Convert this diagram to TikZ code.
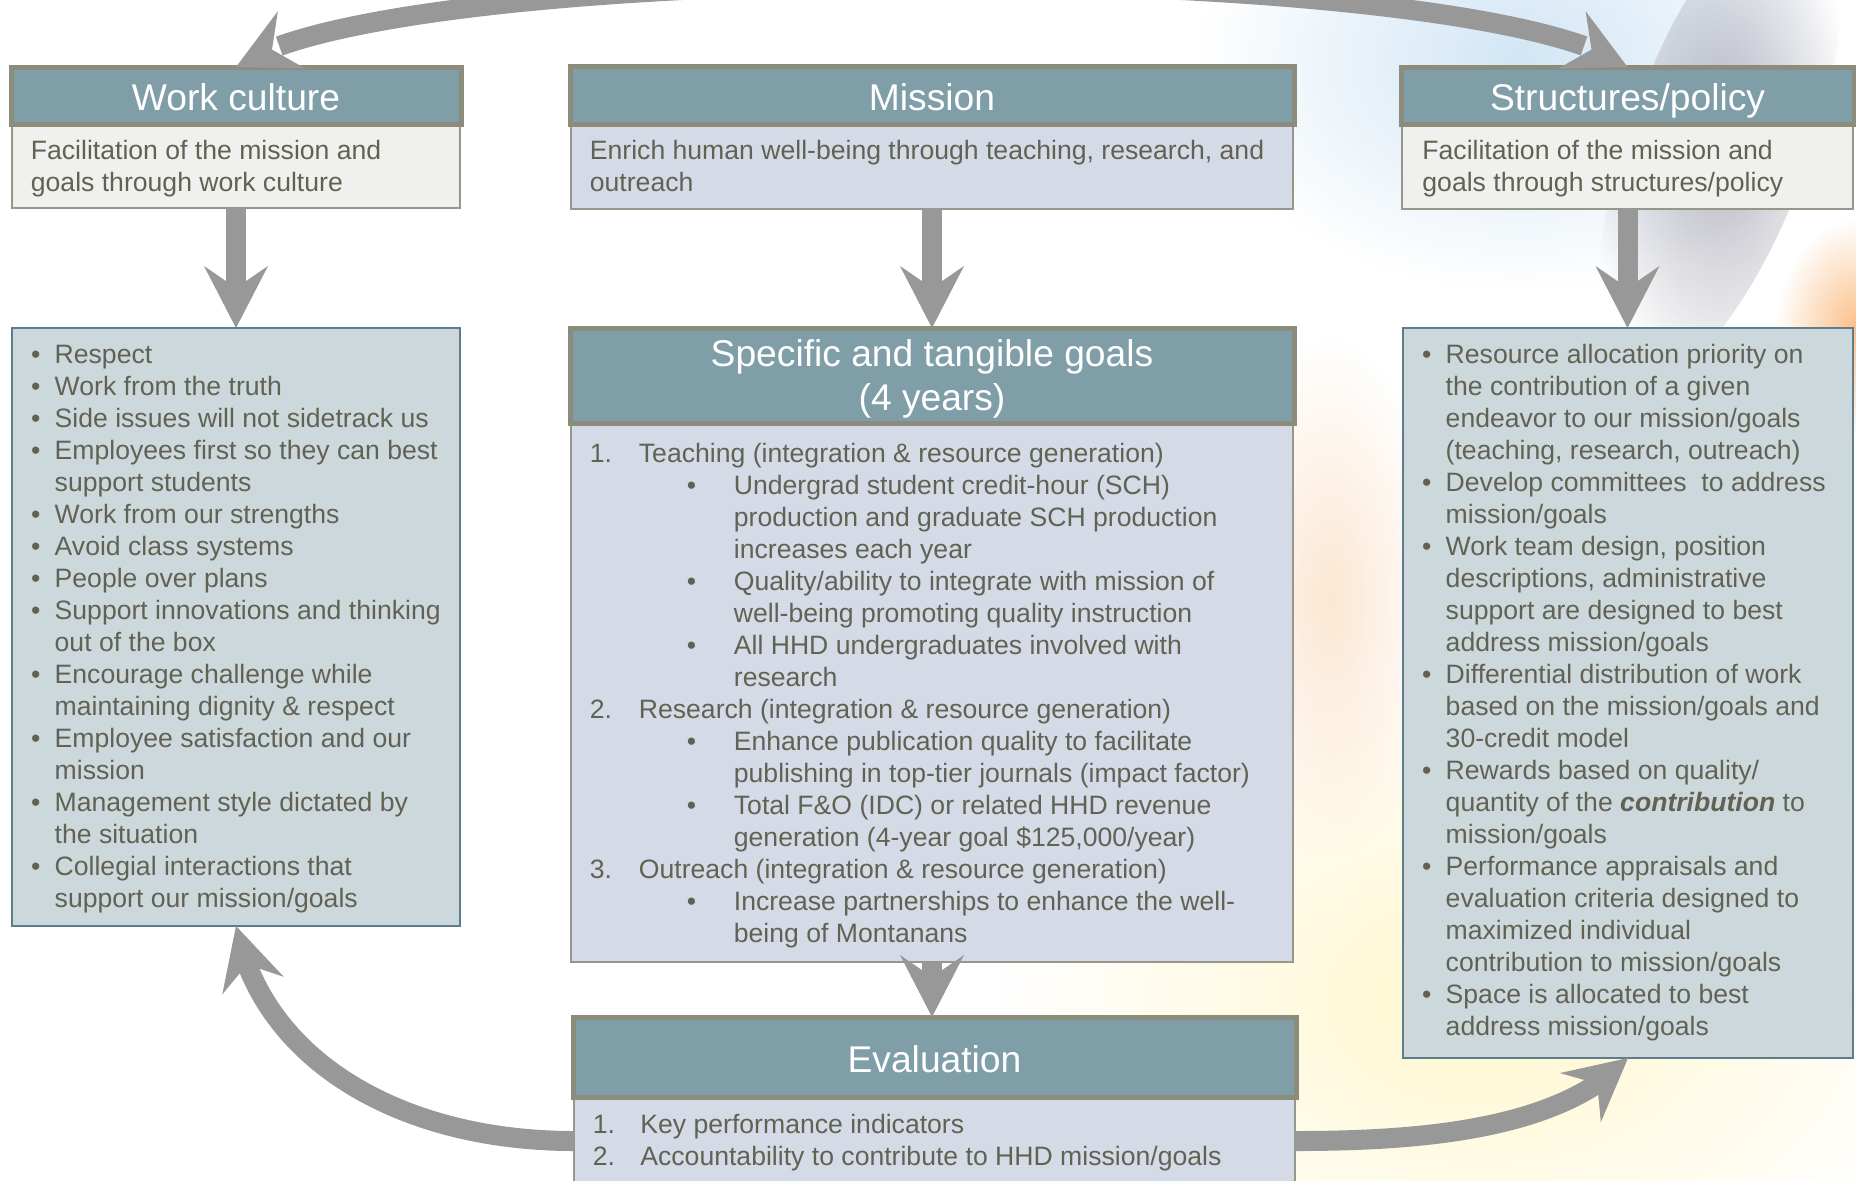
\documentclass[tikz,border=0pt]{standalone}
\usepackage{fontspec}
\setmainfont{Liberation Sans}
\usetikzlibrary{arrows.meta,bending,fadings}
\definecolor{txt}{RGB}{98,98,84}
\definecolor{hdrfill}{RGB}{127,158,168}
\definecolor{hdrline}{RGB}{140,140,124}
\definecolor{descfill}{RGB}{240,240,238}
\definecolor{bluefill}{RGB}{213,219,230}
\definecolor{bulfill}{RGB}{205,216,221}
\definecolor{bulline}{RGB}{93,125,140}
\definecolor{arrowc}{RGB}{152,152,152}
\definecolor{bodyline}{RGB}{150,150,138}
\definecolor{glowblue}{RGB}{210,230,245}
\definecolor{glowgray}{RGB}{165,165,178}
\definecolor{gloworange}{RGB}{250,175,105}
\definecolor{glowyellow}{RGB}{255,247,205}
\definecolor{glowpeach}{RGB}{250,215,180}
\tikzfading[name=glowfade, inner color=transparent!0, outer color=transparent!100]
\newcommand{\bodyfont}{\fontsize{13.3pt}{16pt}\selectfont}
\newcommand{\hdrfont}{\fontsize{18.6pt}{22pt}\selectfont}
\newcommand{\bi}{\makebox[11.8pt][l]{\textbullet}}
\newcommand{\bc}{\hspace*{11.8pt}}
\newcommand{\gn}[1]{\makebox[24.5pt][l]{#1}}
\newcommand{\gb}{\hspace*{48.5pt}\makebox[23.5pt][l]{\textbullet}}
\newcommand{\gc}{\hspace*{72pt}}
\newcommand{\en}[1]{\makebox[23.75pt][l]{#1}}
\begin{document}
\begin{tikzpicture}[x=0.5pt,y=-0.5pt,
  box/.style={rectangle, anchor=north west, inner sep=0pt, outer sep=0pt},
  hdr/.style={box, fill=hdrfill, draw=hdrline, line width=2.5pt},
  descbox/.style={box, fill=descfill, draw=bodyline, line width=1pt},
  bluebox/.style={box, fill=bluefill, draw=bodyline, line width=1pt},
  bulbox/.style={box, fill=bulfill, draw=bulline, line width=1.2pt},
  hdrtext/.style={anchor=base, inner sep=0pt, text=white, font=\hdrfont},
  bodytext/.style={anchor=north west, inner sep=0pt, text=txt, font=\bodyfont},
  >={Stealth[length=31pt,width=32pt,inset=11pt,line width=0pt]},
  flow/.style={draw=arrowc, line width=10pt, ->},
  flowboth/.style={draw=arrowc, line width=10pt, <->},
]
\useasboundingbox (0,0) rectangle (1856,1180);
\clip (0,0) rectangle (1856,1180);
\fill[white] (0,0) rectangle (1856,1180);

% faint background picture
\fill[glowyellow, path fading=glowfade] (1480,1000) ellipse (480 and 330);
\fill[glowpeach, path fading=glowfade, opacity=.6] (1330,600) ellipse (110 and 260);
\fill[glowblue, path fading=glowfade] (1520,60) ellipse (320 and 230);
\fill[glowgray, path fading=glowfade, opacity=.8, rotate around={-20:(1720,140)}] (1720,140) ellipse (90 and 260);
\fill[gloworange, path fading=glowfade, opacity=.8] (1856,330) ellipse (80 and 110);

% boxes
\node[descbox, minimum width=224pt, minimum height=42pt] (wcdesc) at (12,124) {};
\node[hdr, minimum width=225pt, minimum height=28.5pt] (wchead) at (11,67) {};
\node[bluebox, minimum width=361pt, minimum height=42.5pt] (mdesc) at (571,124) {};
\node[hdr, minimum width=362pt, minimum height=29pt] (mhead) at (570,66) {};
\node[descbox, minimum width=225.5pt, minimum height=42.5pt] (stdesc) at (1402,124) {};
\node[hdr, minimum width=226.5pt, minimum height=28.5pt] (sthead) at (1401,67) {};

% arrows between boxes
\draw[flowboth] (wchead.north) .. controls (390,-44) and (1473.5,-44) .. (sthead.north);
\draw[flow] (wcdesc.south) -- (wcdesc.south |- 0,328);
\draw[flow] (mdesc.south) -- (mdesc.south |- 0,328);
\draw[flow] (stdesc.south) -- (stdesc.south |- 0,328);

\node[bluebox, minimum width=361pt, minimum height=269.5pt] (gbody) at (571,423) {};
\node[hdr, minimum width=362pt, minimum height=47.5pt] (ghead) at (570,328) {};
\node[bulbox, minimum width=224pt, minimum height=299pt] (wcbul) at (12,328) {};
\node[bulbox, minimum width=225pt, minimum height=365pt] (stbul) at (1403,328) {};
\node[bluebox, minimum width=360.5pt, minimum height=44pt] (evbody) at (574,1097) {};
\node[hdr, minimum width=361.5pt, minimum height=40pt] (evhead) at (573,1017) {};

\draw[flow] (evbody.west) .. controls (400,1141) and (262,1060) .. (wcbul.south);
\draw[flow] (evbody.east) .. controls (1420,1141) and (1560,1130) .. (stbul.south);
\draw[flow] (gbody.south) -- (gbody.south |- evhead.north);

% header texts
\node[hdrtext] (wct) at (236,110) {Work culture};
\node[hdrtext] (mt) at (932,110) {Mission};
\node[hdrtext] (stt) at (1627.5,110) {Structures/policy};
\node[hdrtext] (gt) at (932,366.7) {\begin{tabular}[t]{@{}c@{}}Specific and tangible goals\\(4 years)\end{tabular}};
\node[hdrtext] (evt) at (934.5,1072.7) {Evaluation};

% descriptions
\node[bodytext] (wcdt) at (30.5,136.6) {\begin{tabular}{@{}l@{}}Facilitation of the mission and\\goals through work culture\end{tabular}};
\node[bodytext] (mdt) at (589.5,136.6) {\begin{tabular}{@{}l@{}}Enrich human well-being through teaching, research, and\\outreach\end{tabular}};
\node[bodytext] (stdt) at (1422,136.6) {\begin{tabular}{@{}l@{}}Facilitation of the mission and\\goals through structures/policy\end{tabular}};

% work culture list
\node[bodytext] (wclist) at (30.7,340.6) {\begin{tabular}{@{}l@{}}
\bi Respect\\
\bi Work from the truth\\
\bi Side issues will not sidetrack us\\
\bi Employees first so they can best\\
\bc support students\\
\bi Work from our strengths\\
\bi Avoid class systems\\
\bi People over plans\\
\bi Support innovations and thinking\\
\bc out of the box\\
\bi Encourage challenge while\\
\bc maintaining dignity \& respect\\
\bi Employee satisfaction and our\\
\bc mission\\
\bi Management style dictated by\\
\bc the situation\\
\bi Collegial interactions that\\
\bc support our mission/goals
\end{tabular}};

% structures list
\node[bodytext] (stlist) at (1421.7,340.6) {\begin{tabular}{@{}l@{}}
\bi Resource allocation priority on\\
\bc the contribution of a given\\
\bc endeavor to our mission/goals\\
\bc (teaching, research, outreach)\\
\bi Develop committees~ to address\\
\bc mission/goals\\
\bi Work team design, position\\
\bc descriptions, administrative\\
\bc support are designed to best\\
\bc address mission/goals\\
\bi Differential distribution of work\\
\bc based on the mission/goals and\\
\bc 30-credit model\\
\bi Rewards based on quality/\\
\bc quantity of the \textbf{\textit{contribution}} to\\
\bc mission/goals\\
\bi Performance appraisals and\\
\bc evaluation criteria designed to\\
\bc maximized individual\\
\bc contribution to mission/goals\\
\bi Space is allocated to best\\
\bc address mission/goals
\end{tabular}};

% goals list
\node[bodytext] (glist) at (589.5,440.1) {\begin{tabular}{@{}l@{}}
\gn{1.}Teaching (integration \& resource generation)\\
\gb Undergrad student credit-hour (SCH)\\
\gc production and graduate SCH production\\
\gc increases each year\\
\gb Quality/ability to integrate with mission of\\
\gc well-being promoting quality instruction\\
\gb All HHD undergraduates involved with\\
\gc research\\
\gn{2.}Research (integration \& resource generation)\\
\gb Enhance publication quality to facilitate\\
\gc publishing in top-tier journals (impact factor)\\
\gb Total F\&O (IDC) or related HHD revenue\\
\gc generation (4-year goal \$125,000/year)\\
\gn{3.}Outreach (integration \& resource generation)\\
\gb Increase partnerships to enhance the well-\\
\gc being of Montanans
\end{tabular}};

% evaluation list
\node[bodytext] (evlist) at (592.5,1110.6) {\begin{tabular}{@{}l@{}}
\en{1.}Key performance indicators\\
\en{2.}Accountability to contribute to HHD mission/goals
\end{tabular}};
\end{tikzpicture}
\end{document}
